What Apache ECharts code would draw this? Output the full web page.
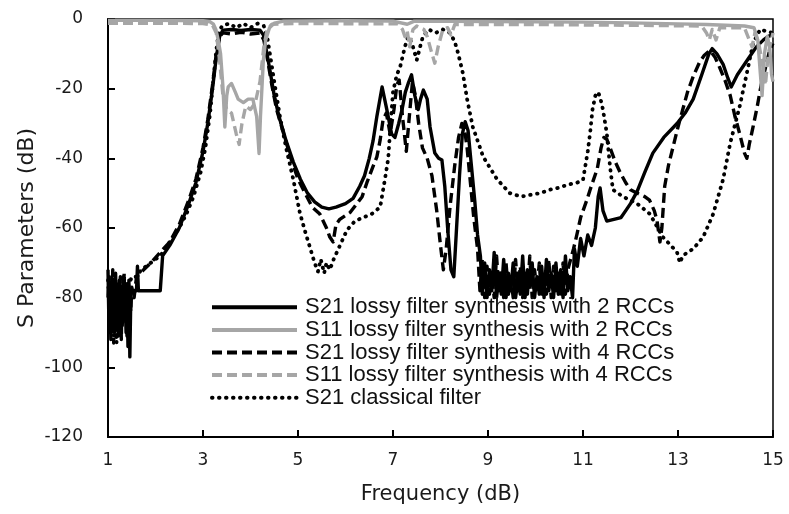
<!DOCTYPE html>
<html><head><meta charset="utf-8">
<script src="https://cdn.jsdelivr.net/npm/echarts@6/dist/echarts.min.js"></script>
<style>html,body{margin:0;padding:0;background:#fff}#c{width:789px;height:514px}</style>
</head><body><div id="c"></div>
<script>
const xTicks = [1,3,5,7,9,11,13,15];
const yTicks = [-120,-100,-80,-60,-40,-20,0];
const seriesNames = [
  'S21 lossy filter synthesis with 2 RCCs',
  'S11 lossy filter synthesis with 2 RCCs',
  'S21 lossy filter synthesis with 4 RCCs',
  'S11 lossy filter synthesis with 4 RCCs',
  'S21 classical filter'
];
const s21_2rcc = [[1.00,-72],[1.02,-88],[1.04,-76],[1.06,-92],[1.08,-74],[1.10,-85],[1.12,-78],[1.14,-90],[1.16,-73],[1.18,-86],[1.20,-77],[1.22,-91],[1.24,-75],[1.26,-84],[1.28,-79],[1.30,-88],[1.32,-74],[1.34,-83],[1.36,-78],[1.38,-90],[1.40,-76],[1.42,-94],[1.44,-75],[1.46,-97],[1.48,-80],[1.50,-78],[1.60,-78],[1.62,-71],[1.64,-78],[1.80,-78],[2.10,-78],[2.15,-68],[2.30,-65],[2.50,-60],[2.70,-53],[2.85,-47],[3.00,-38],[3.10,-30],[3.20,-20],[3.28,-11],[3.35,-5],[3.42,-3.2],[3.60,-3],[3.80,-3.3],[4.00,-3],[4.20,-3.2],[4.27,-4.5],[4.32,-8],[4.40,-14],[4.50,-22],[4.60,-28],[4.75,-35],[4.90,-41],[5.05,-46],[5.20,-50],[5.35,-52.5],[5.50,-54],[5.65,-54.5],[5.80,-54],[6.00,-53],[6.16,-51.5],[6.30,-48],[6.40,-45],[6.50,-40],[6.58,-35],[6.66,-28],[6.77,-19.5],[6.87,-26],[6.97,-33],[7.04,-34],[7.12,-30],[7.19,-26],[7.26,-21],[7.32,-18.5],[7.39,-16],[7.46,-22],[7.53,-26],[7.58,-23],[7.64,-20.4],[7.72,-23],[7.78,-31],[7.88,-38.5],[7.96,-40],[8.03,-40.5],[8.09,-48],[8.15,-60],[8.22,-72],[8.28,-74],[8.33,-62],[8.40,-45],[8.46,-33],[8.52,-29.5],[8.58,-32],[8.65,-42],[8.72,-52],[8.78,-62],[8.84,-68],
[8.88,-79],[8.93,-70],[8.98,-80],[9.03,-72],[9.08,-78],[9.13,-67],[9.18,-80],[9.23,-74],[9.28,-79],[9.33,-69],[9.38,-80],[9.43,-73],[9.48,-78],[9.53,-70],[9.58,-80],[9.63,-75],[9.68,-79],[9.73,-68],[9.78,-80],[9.83,-72],[9.88,-77],[9.93,-70],[9.98,-80],[10.03,-74],[10.08,-79],[10.13,-71],[10.18,-80],[10.23,-69],[10.28,-78],[10.33,-73],[10.38,-80],[10.43,-70],[10.48,-79],[10.53,-72],[10.58,-80],[10.63,-68],[10.68,-78],[10.73,-74],[10.78,-80],
[10.82,-66],[10.88,-71],[10.95,-63],[11.02,-68],[11.10,-62],[11.18,-65],[11.26,-60],[11.32,-51],[11.36,-48.5],[11.42,-55],[11.50,-58],[11.65,-57.5],[11.80,-57],[11.90,-55],[12.00,-53],[12.14,-49.5],[12.30,-44],[12.47,-38.5],[12.70,-34],[12.98,-30],[13.15,-27],[13.32,-23],[13.50,-16],[13.65,-10],[13.72,-8.5],[13.82,-10],[13.95,-13],[14.05,-17],[14.12,-19.5],[14.25,-16],[14.40,-13],[14.50,-11],[14.65,-8],[14.80,-6],[14.90,-5],[15.00,-4.5]];
const s11_2rcc = [[1.00,-0.4],[2.00,-0.4],[3.00,-0.5],[3.15,-0.8],[3.22,-1.5],[3.27,-3],[3.32,-6],[3.37,-10],[3.42,-19.5],[3.46,-31],[3.50,-22],[3.53,-19.5],[3.60,-18.5],[3.68,-21],[3.74,-23],[3.85,-24],[3.95,-23],[4.05,-23],[4.13,-28],[4.18,-38.6],[4.21,-28],[4.24,-20],[4.27,-12],[4.32,-6],[4.40,-2.5],[4.50,-1.2],[4.70,-0.6],[6.00,-0.5],[7.00,-0.6],[7.30,-1.5],[7.45,-0.6],[9.00,-0.7],[11.00,-0.9],[12.00,-1.1],[13.00,-1.4],[13.60,-1.6],[14.00,-1.8],[14.40,-2],[14.60,-2.5],[14.68,-6],[14.73,-15],[14.77,-22],[14.82,-10],[14.88,-5],[14.93,-8],[14.97,-16],[15.00,-18]];
const s21_4rcc = [[1.00,-80],[1.02,-74],[1.04,-90],[1.06,-77],[1.08,-86],[1.10,-72],[1.12,-93],[1.14,-79],[1.16,-84],[1.18,-75],[1.20,-89],[1.22,-78],[1.24,-82],[1.26,-74],[1.28,-92],[1.30,-77],[1.32,-87],[1.34,-73],[1.36,-85],[1.38,-79],[1.40,-91],[1.42,-76],[1.44,-88],[1.46,-80],[1.48,-84],[1.50,-77],[1.55,-80],[1.60,-74],[1.75,-72],[1.90,-70],[2.10,-67],[2.30,-64],[2.50,-59],[2.70,-52],[2.85,-46],[3.00,-37],[3.10,-29],[3.20,-19],[3.28,-10],[3.35,-5],[3.42,-4],[3.60,-4.3],[3.80,-3.8],[4.00,-4.3],[4.20,-4],[4.28,-6],[4.35,-11],[4.45,-19],[4.55,-26],[4.70,-33],[4.85,-40],[5.00,-46],[5.15,-50],[5.30,-54],[5.46,-56],[5.60,-60],[5.67,-62.6],[5.74,-64],[5.80,-59],[5.88,-57.5],[6.10,-55.5],[6.24,-53],[6.35,-51],[6.45,-47],[6.56,-43],[6.66,-39.6],[6.73,-34.7],[6.79,-29],[6.86,-27],[6.94,-33],[7.02,-26],[7.08,-19],[7.13,-17.5],[7.20,-28],[7.28,-38],[7.35,-27],[7.41,-18],[7.47,-22],[7.54,-30],[7.62,-37],[7.72,-40],[7.82,-45],[7.92,-55],[8.00,-65],[8.06,-72],[8.12,-66],[8.20,-54],[8.30,-42],[8.38,-34],[8.45,-30],[8.50,-31],[8.56,-37],[8.63,-47],[8.70,-57],[8.78,-66],
[8.83,-78],[8.88,-69],[8.93,-80],[8.98,-71],[9.03,-79],[9.08,-73],[9.13,-80],[9.18,-68],[9.23,-78],[9.28,-72],[9.33,-80],[9.38,-70],[9.43,-79],[9.48,-74],[9.53,-80],[9.58,-69],[9.63,-78],[9.68,-71],[9.73,-80],[9.78,-73],[9.83,-79],[9.88,-68],[9.93,-80],[9.98,-72],[10.03,-78],[10.08,-70],[10.13,-80],[10.18,-74],[10.23,-79],[10.28,-69],[10.33,-80],[10.38,-71],[10.43,-78],[10.48,-73],[10.53,-80],[10.58,-70],[10.63,-79],[10.68,-72],
[10.72,-70],[10.80,-66],[10.87,-62],[10.95,-57],[11.08,-52],[11.15,-49],[11.30,-43],[11.38,-37],[11.44,-34],[11.50,-34.5],[11.57,-37],[11.68,-41],[11.78,-44],[11.90,-47],[12.00,-49],[12.14,-50],[12.30,-51],[12.40,-52],[12.50,-55],[12.56,-58],[12.62,-64],[12.66,-60],[12.72,-48],[12.80,-42],[12.90,-36.5],[13.00,-31],[13.10,-26],[13.20,-21],[13.32,-16.5],[13.45,-12.5],[13.55,-10.5],[13.67,-9],[13.78,-11],[13.88,-14],[14.00,-18],[14.10,-22],[14.20,-28],[14.30,-33],[14.40,-38.5],[14.45,-40],[14.50,-36],[14.58,-31],[14.67,-25],[14.75,-19],[14.85,-13.5],[14.93,-9],[15.00,-7]];
const s11_4rcc = [[1.00,-1.2],[2.00,-1.2],[3.00,-1.3],[3.20,-1.8],[3.28,-4],[3.35,-12],[3.42,-22],[3.50,-26],[3.60,-27],[3.70,-33],[3.76,-36],[3.82,-30],[3.90,-25],[4.00,-26],[4.10,-24],[4.20,-18],[4.28,-8],[4.35,-3],[4.45,-1.5],[5.00,-1.3],[7.10,-1.4],[7.20,-3],[7.25,-5],[7.30,-3.5],[7.35,-8],[7.42,-3],[7.50,-2],[7.65,-3],[7.72,-5],[7.80,-9],[7.88,-12.7],[7.95,-8],[8.05,-3],[8.15,-2.5],[8.22,-4.6],[8.30,-1.6],[10.00,-1.6],[12.00,-1.8],[13.50,-2],[13.60,-4],[13.66,-6],[13.72,-3],[13.80,-6],[13.88,-2.5],[14.40,-2.5],[14.50,-6],[14.56,-8],[14.62,-4],[14.70,-7],[14.78,-13],[14.84,-19],[14.90,-10],[15.00,-4]];
const s21_classical = [[1.00,-75],[1.03,-82],[1.06,-88],[1.09,-78],[1.12,-91],[1.15,-84],[1.18,-93],[1.21,-80],[1.24,-89],[1.27,-83],[1.30,-86],[1.33,-79],[1.36,-84],[1.40,-78],[1.45,-76],[1.50,-74],[1.60,-74],[1.70,-72],[1.80,-71],[1.90,-70],[2.00,-69],[2.10,-68],[2.20,-66],[2.35,-63],[2.50,-60],[2.65,-56],[2.80,-51],[2.95,-44],[3.05,-37],[3.15,-27],[3.22,-17],[3.28,-9],[3.33,-4],[3.40,-2],[3.55,-1.3],[3.70,-2.5],[3.85,-1.3],[4.00,-2.5],[4.15,-1.3],[4.28,-2],[4.35,-5],[4.42,-11],[4.50,-18],[4.62,-28],[4.75,-37],[4.90,-46],[5.04,-55.7],[5.15,-61],[5.25,-65.5],[5.35,-70],[5.42,-72.5],[5.48,-69],[5.55,-73],[5.60,-70],[5.67,-72],[5.75,-69],[5.85,-66],[6.03,-60.6],[6.20,-58],[6.37,-57],[6.55,-56],[6.73,-54],[6.83,-46],[6.90,-40],[6.95,-30],[7.00,-21],[7.08,-16],[7.15,-13.8],[7.25,-8],[7.32,-5],[7.40,-7],[7.50,-11.8],[7.57,-8],[7.63,-5],[7.75,-3],[7.90,-4],[8.05,-3],[8.20,-4],[8.30,-6.5],[8.37,-9.8],[8.47,-15.5],[8.56,-23],[8.68,-31],[8.90,-39.6],[9.19,-46],[9.46,-50],[9.70,-51],[9.88,-50.5],[10.10,-50],[10.30,-49],[10.45,-48.6],[10.70,-47.5],[10.87,-47],[11.00,-46.2],[11.10,-38],[11.15,-32.7],[11.20,-26],[11.26,-22],[11.32,-21],[11.37,-23],[11.42,-26],[11.50,-32.7],[11.57,-42.5],[11.63,-49],[11.84,-51],[12.14,-53],[12.41,-56],[12.68,-62.6],[12.85,-65],[12.98,-67],[13.04,-70],[13.10,-68],[13.20,-67],[13.32,-66],[13.53,-62.6],[13.74,-56],[13.95,-46],[14.10,-35.6],[14.30,-25],[14.45,-15.5],[14.58,-7],[14.73,-3],[14.85,-3.5],[15.00,-4]];

const tickFont = {fontFamily:'DejaVu Sans', fontSize:17, color:'#1a1a1a'};
const chart = echarts.init(document.getElementById('c'), null, {renderer:'canvas'});
function mk(name, data, color, type, width, z) {
  return {name, type:'line', data, symbol:'none', showSymbol:false, z,
    lineStyle:{color, width, type, cap: Array.isArray(type) && type[0] < 2 ? 'round' : 'butt', join:'round'},
    itemStyle:{color}};
}
chart.setOption({
  animation:false,
  grid:{left:108, right:16, top:19, bottom:77, show:true, borderColor:'#000', borderWidth:1.5, backgroundColor:'transparent'},
  legend:{orient:'vertical', left:205, top:291, itemWidth:85, itemHeight:10, itemGap:0,
    itemStyle:{opacity:0, borderWidth:0},
    lineStyle:{width:4},
    data:seriesNames,
    textStyle:{fontFamily:'Liberation Sans', fontSize:22, color:'#111', lineHeight:22.6, padding:[0,0,0,3]}},
  xAxis:{type:'value', min:xTicks[0], max:xTicks[xTicks.length-1], interval:2,
    name:'Frequency (dB)', nameLocation:'middle', nameGap:47,
    nameTextStyle:{fontFamily:'DejaVu Sans', fontSize:21, color:'#1a1a1a'},
    axisLine:{onZero:false, lineStyle:{color:'#000', width:2}},
    axisTick:{inside:true, length:7, lineStyle:{color:'#000', width:2}},
    axisLabel:Object.assign({margin:15}, tickFont),
    splitLine:{show:false}},
  yAxis:{type:'value', min:yTicks[0], max:yTicks[yTicks.length-1], interval:20,
    name:'S Parameters (dB)', nameLocation:'middle', nameGap:70, nameMoveOverlap:false,
    nameTextStyle:{fontFamily:'DejaVu Sans', fontSize:22, color:'#1a1a1a'},
    axisLine:{onZero:false, lineStyle:{color:'#000', width:2}},
    axisTick:{inside:true, length:7, lineStyle:{color:'#000', width:2}},
    axisLabel:Object.assign({margin:25}, tickFont),
    splitLine:{show:false}},
  series:[
    mk(seriesNames[0], s21_2rcc, '#000', 'solid', 3.4, 3),
    mk(seriesNames[1], s11_2rcc, '#a6a6a6', 'solid', 3.4, 4),
    mk(seriesNames[2], s21_4rcc, '#000', [10,5], 3.4, 2),
    mk(seriesNames[3], s11_4rcc, '#a6a6a6', [10,5], 3.4, 5),
    mk(seriesNames[4], s21_classical, '#000', [0.5,6.5], 3.8, 1)
  ]
});
</script></body></html>
